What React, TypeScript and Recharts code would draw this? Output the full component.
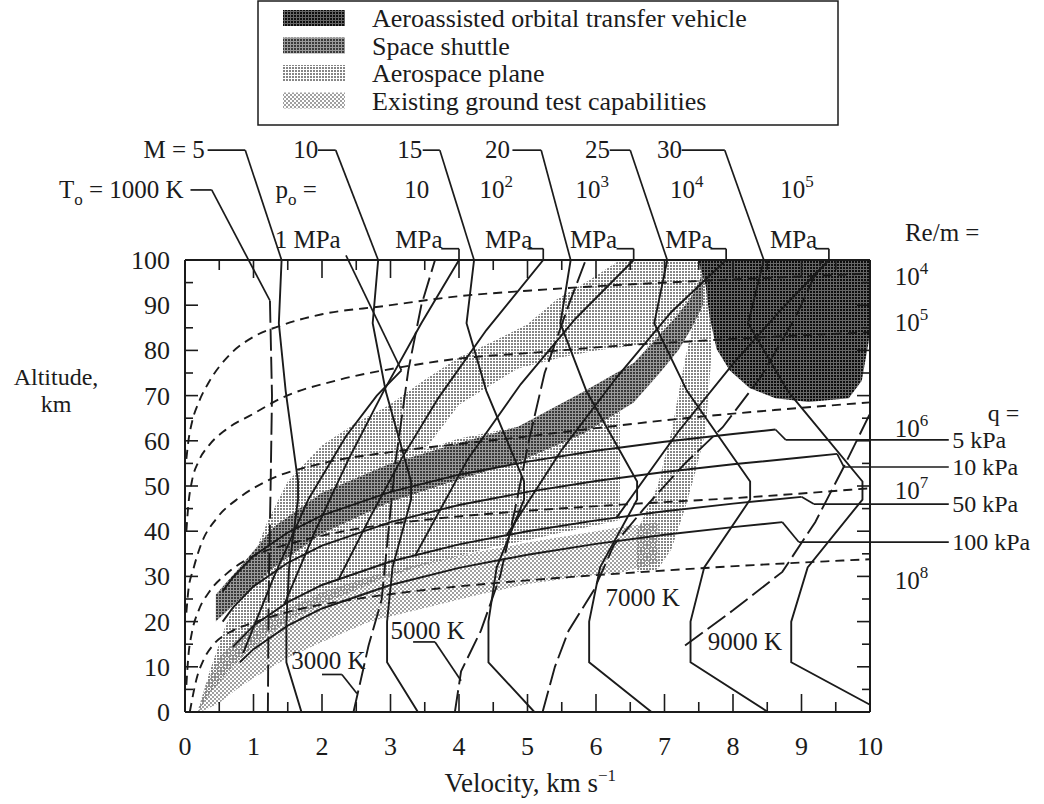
import { ComposedChart, Line, Area, XAxis, YAxis, ReferenceLine } from 'recharts'

const W = 1044
const H = 804
const PLOT = { left: 185, right: 870, top: 260, bottom: 712 }
const INK = '#1b1b1b'
const FONT = '"Liberation Serif", "Times New Roman", serif'

const xTicks = [0, 0.5, 1, 1.5, 2, 2.5, 3, 3.5, 4, 4.5, 5, 5.5, 6, 6.5, 7, 7.5, 8, 8.5, 9, 9.5, 10]
const yTicks = [0, 5, 10, 15, 20, 25, 30, 35, 40, 45, 50, 55, 60, 65, 70, 75, 80, 85, 90, 95, 100]

// Re/m lines (dashed) [velocity km/s, altitude km]
const re4 = [[0.02, 56], [0.05, 60], [0.1, 64], [0.2, 68.5], [0.35, 73], [0.65, 79], [1.0, 83], [1.4, 85.5], [2.0, 88], [2.9, 89.8], [4.0, 92], [5.0, 93.2], [6.0, 94.2], [7.3, 95.2], [8.6, 96.1], [10, 97]]
const re5 = [[0.02, 40], [0.05, 46], [0.1, 51], [0.2, 55.5], [0.35, 59], [0.6, 62.5], [1.0, 66], [1.4, 69.4], [2.2, 73.3], [3.2, 76.4], [4.0, 78.2], [5.0, 79.4], [6.3, 81], [7.6, 82.2], [8.8, 83.2], [10, 84]]
const re6 = [[0.02, 22], [0.05, 27], [0.12, 31.5], [0.24, 37.3], [0.46, 42.8], [0.8, 47.5], [1.18, 51], [2.0, 55], [3.0, 57.5], [4.0, 59.3], [4.9, 60.8], [6.0, 62.8], [7.3, 65], [8.6, 66.8], [10, 68.5]]
const re7 = [[0.02, 6], [0.05, 12.5], [0.1, 17.5], [0.2, 22.5], [0.35, 26.5], [0.6, 30.5], [1.0, 34.5], [1.6, 37.5], [2.5, 40.5], [3.5, 42.5], [4.9, 44.4], [6.5, 46], [8.2, 47.5], [10, 49.5]]
const re8 = [[0.07, 0], [0.17, 7.4], [0.27, 11.5], [0.41, 14.8], [0.7, 18], [1.0, 19.8], [1.6, 22.5], [2.5, 25], [3.5, 27], [4.9, 29], [6.7, 31], [8.3, 32.5], [10, 33.8]]

// dynamic pressure q (solid)
const q5 = [[0.55, 26.7], [0.7, 29.8], [1, 34.5], [1.5, 39.7], [2, 43.5], [3, 48.7], [4, 52.5], [5, 55.4], [6, 57.8], [7, 59.8], [8, 61.5], [8.62, 62.5]]
const q10 = [[0.55, 20], [0.7, 23.1], [1, 27.8], [1.5, 33], [2, 36.8], [3, 42], [4, 45.8], [5, 48.7], [6, 51.1], [7, 53.1], [8, 54.8], [9, 56.3], [9.52, 57.1]]
const q50 = [[0.7, 14.4], [1, 19.1], [1.5, 24.3], [2, 28.1], [3, 33.3], [4, 37.1], [5, 40], [6, 42.4], [7, 44.4], [8, 46.1], [9, 47.6]]
const q100 = [[0.8, 11], [1, 13.9], [1.5, 19.1], [2, 22.9], [3, 28.1], [4, 31.9], [5, 34.8], [6, 37.2], [7, 39.2], [8, 40.9], [8.72, 42]]

// Mach number (solid)
const m5 = [[1.41, 100], [1.37, 86], [1.47, 71], [1.65, 51], [1.65, 47], [1.52, 32], [1.48, 20], [1.48, 11], [1.7, 0]]
const m10 = [[2.82, 100], [2.74, 86], [2.93, 71], [3.3, 51], [3.3, 47], [3.03, 32], [2.95, 20], [2.95, 11], [3.4, 0]]
const m15 = [[4.22, 100], [4.11, 86], [4.4, 71], [4.95, 51], [4.95, 47], [4.55, 32], [4.43, 20], [4.43, 11], [5.1, 0]]
const m20 = [[5.63, 100], [5.48, 86], [5.86, 71], [6.6, 51], [6.6, 47], [6.06, 32], [5.9, 20], [5.9, 11], [6.81, 0]]
const m25 = [[7.04, 100], [6.85, 86], [7.33, 71], [8.25, 51], [8.25, 47], [7.58, 32], [7.38, 20], [7.38, 11], [8.51, 0]]
const m30 = [[8.45, 100], [8.22, 86], [8.8, 71], [9.89, 51], [9.89, 47], [9.09, 32], [8.85, 20], [8.85, 11], [10, 1.6]]

// stagnation temperature T_o (long dash)
const t1000 = [[1.24, 91], [1.27, 70], [1.25, 50], [1.22, 25], [1.21, 0]]
const t3000 = [[2.46, 0], [2.68, 14.7], [2.87, 24.8], [2.97, 40], [3.07, 55], [3.16, 64.7], [3.26, 75.6], [3.45, 90], [3.65, 100]]
const t5000 = [[3.94, 0], [4.03, 9], [4.32, 18], [4.6, 30], [4.82, 45], [5.02, 60], [5.25, 75], [5.6, 90], [5.85, 100]]
const t7000 = [[5.22, 0], [5.4, 10], [5.6, 18], [5.97, 27], [6.26, 36.9], [6.7, 45], [7.3, 55], [7.85, 63], [8.4, 74], [8.9, 87], [9.3, 100]]
const t9000 = [[7.3, 14.7], [8.0, 22.5], [8.72, 31], [9.2, 42], [9.6, 53.7], [10, 66]]

// stagnation pressure p_o (solid)
const p1 = [[0.85, 13.1], [1.3, 30], [1.8, 47], [2.35, 61], [2.8, 70], [3.16, 75.6]]
const p10 = [[1.45, 23.8], [1.9, 40], [2.39, 56], [2.9, 71], [3.45, 86], [4.0, 100]]
const p100 = [[2.25, 29.6], [2.7, 43], [3.16, 56], [3.7, 69.5], [4.4, 84.5], [5.23, 100]]
const p1e3 = [[3.36, 34.6], [4.13, 56], [4.9, 72.5], [5.7, 87], [6.55, 100]]
const p1e4 = [[4.7, 39.2], [5.5, 58], [6.3, 74], [7.1, 88.5], [7.9, 100]]
const p1e5 = [[6.3, 43], [7.2, 62], [8.0, 77], [8.7, 89], [9.4, 100]]

// shaded regions [velocity, low altitude, high altitude]
const groundTest = [[0.19, 0, 0.5], [0.3, 0.5, 6], [0.5, 2, 12], [0.75, 5, 16], [1.0, 7.5, 19], [1.5, 12, 23], [2.0, 15.5, 26.5], [2.7, 20, 30], [3.5, 23, 33], [4.3, 26, 35.5], [5.0, 28.3, 37.5], [5.8, 30, 39.5], [6.4, 31, 41], [6.9, 33, 42]]
const aeroMain = [[0.19, 0, 0], [0.36, 4, 9], [0.58, 8, 18.6], [0.89, 13, 30.3], [1.2, 17, 42], [1.5, 20, 51], [2.0, 24, 59], [2.5, 27, 64], [2.97, 30, 67.8], [3.5, 32.5, 73.5], [3.99, 34.5, 78.4], [4.5, 36.5, 82], [5.0, 38, 85.8], [5.43, 39.5, 91.3], [5.9, 41, 95.5], [6.35, 42.5, 100]]
const aeroTop = [[6.35, 78, 100], [6.8, 80, 100], [7.2, 84, 100], [7.5, 88, 100], [7.62, 95, 100]]
const aeroPullUp = [[6.6, 31, 40], [6.9, 31.5, 50], [7.1, 36, 62], [7.3, 45, 78], [7.45, 53, 88], [7.6, 62, 100], [7.68, 78, 100]]
const lensGap = [[3.5, 58, 58], [4.0, 60.5, 68], [4.86, 63.1, 76], [5.5, 67.5, 78.5], [6.0, 72, 80], [6.5, 77, 81], [6.75, 80.5, 81.5]]
const shuttle = [[0.45, 20, 26], [0.8, 25, 32], [1.3, 32, 41], [2.0, 39.5, 48.5], [3.0, 46.5, 55], [4.0, 51.5, 59.5], [4.86, 55.3, 63.1], [5.82, 61.6, 70.9], [6.55, 68.5, 77.2], [6.93, 75, 83.4], [7.2, 80, 88], [7.4, 85, 92], [7.56, 90, 97]]
const aotv = [[7.49, 100, 100], [7.6, 94.4, 100], [7.66, 87.3, 100], [7.76, 80.3, 100], [7.95, 75.6, 100], [8.24, 71.7, 100], [8.62, 69.4, 100], [9.1, 68.6, 100], [9.69, 69.4, 100], [9.88, 73.3, 100], [9.98, 81.9, 100], [10, 85.6, 100]]

// leader lines (data units)
const leaders = [
  [[0.33, 124.3], [0.88, 124.3], [1.41, 100]],
  [[1.94, 124.3], [2.2, 124.3], [2.82, 100]],
  [[3.47, 124.3], [3.72, 124.3], [4.22, 100]],
  [[4.78, 124.3], [5.2, 124.3], [5.63, 100]],
  [[6.2, 124.3], [6.5, 124.3], [7.04, 100]],
  [[7.25, 124.3], [7.88, 124.3], [8.45, 100]],
  [[0.08, 115.5], [0.39, 115.5], [1.24, 91]],
  [[2.35, 101], [3.16, 75.6]],
  [[3.74, 102.5], [4.0, 102.5], [4.0, 100]],
  [[5.0, 102.5], [5.23, 102.5], [5.23, 100]],
  [[6.3, 102.5], [6.55, 102.5], [6.55, 100]],
  [[7.67, 102.5], [7.9, 102.5], [7.9, 100]],
  [[9.2, 102.5], [9.4, 102.5], [9.4, 100]],
  [[8.62, 62.5], [8.77, 60.2], [11.15, 60.2]],
  [[9.52, 57.1], [9.62, 54.2], [11.15, 54.2]],
  [[9.0, 47.6], [9.18, 46], [11.15, 46]],
  [[8.72, 42], [8.96, 37.6], [11.15, 37.6]],
  [[2.0, 8.3], [2.29, 8.3], [2.51, 4.1]],
  [[3.33, 15.5], [3.65, 15.5], [4.03, 6.9]],
]

const legendItems = [
  { name: 'Aeroassisted orbital transfer vehicle', fill: 'url(#pAotv)' },
  { name: 'Space shuttle', fill: 'url(#pShuttle)' },
  { name: 'Aerospace plane', fill: 'url(#pAero)' },
  { name: 'Existing ground test capabilities', fill: 'url(#pGround)' },
]

const machLabels = [
  { text: 'M = 5', v: 0.29, anchor: 'end' },
  { text: '10', v: 1.58, anchor: 'start' },
  { text: '15', v: 3.1, anchor: 'start' },
  { text: '20', v: 4.38, anchor: 'start' },
  { text: '25', v: 5.84, anchor: 'start' },
  { text: '30', v: 6.89, anchor: 'start' },
]
const poExponents = [{ exp: '', v: 3.2 }, { exp: '2', v: 4.3 }, { exp: '3', v: 5.7 }, { exp: '4', v: 7.08 }, { exp: '5', v: 8.69 }]
const mpaStarts = [3.07, 4.38, 5.62, 7.01, 8.54]
const reLabels = [{ exp: '4', h: 96.5 }, { exp: '5', h: 86.3 }, { exp: '6', h: 62.8 }, { exp: '7', h: 49.1 }, { exp: '8', h: 29.2 }]
const qLabels = [{ text: '5 kPa', h: 60.2 }, { text: '10 kPa', h: 54.2 }, { text: '50 kPa', h: 46 }, { text: '100 kPa', h: 37.6 }]
const tempLabels = [{ text: '3000 K', v: 1.55, h: 11.2 }, { text: '5000 K', v: 3.0, h: 17.9 }, { text: '7000 K', v: 6.14, h: 25.2 }, { text: '9000 K', v: 7.63, h: 15.4 }]

const pts = (a: number[][]) => a.map(([v, h]) => ({ v, h }))
const band = (a: number[][]) => a.map(([v, lo, hi]) => ({ v, r: [lo, hi] }))

const px = (v: number) => PLOT.left + (v / 10) * (PLOT.right - PLOT.left)
const py = (h: number) => PLOT.bottom - (h / 100) * (PLOT.bottom - PLOT.top)

const solid = [q5, q10, q50, q100, m5, m10, m15, m20, m25, m30, p1, p10, p100, p1e3, p1e4, p1e5]
const reLines = [re4, re5, re6, re7, re8]
const tLines = [t1000, t3000, t5000, t7000, t9000]

const textStyle = { fontFamily: FONT, fontSize: 25, fill: INK }

function BottomTick(p: any) {
  const v = p.payload.value
  const major = Number.isInteger(v)
  return (
    <g>
      <line x1={p.x} y1={p.y} x2={p.x} y2={p.y - (major ? 18 : 10)} stroke={INK} strokeWidth={1.6} />
      {major && (
        <text x={p.x} y={p.y + 43} textAnchor="middle" {...textStyle} fontSize={26}>
          {v}
        </text>
      )}
    </g>
  )
}

function TopTick(p: any) {
  const major = Number.isInteger(p.payload.value)
  return <line x1={p.x} y1={p.y} x2={p.x} y2={p.y + (major ? 18 : 10)} stroke={INK} strokeWidth={1.6} />
}

function LeftTick(p: any) {
  const v = p.payload.value
  const major = v % 10 === 0
  return (
    <g>
      <line x1={p.x} y1={p.y} x2={p.x + (major ? 13 : 8)} y2={p.y} stroke={INK} strokeWidth={1.6} />
      {major && (
        <text x={p.x - 15} y={p.y + 9} textAnchor="end" {...textStyle} fontSize={26}>
          {v}
        </text>
      )}
    </g>
  )
}

function RightTick(p: any) {
  const major = p.payload.value % 10 === 0
  return <line x1={p.x} y1={p.y} x2={p.x - (major ? 13 : 8)} y2={p.y} stroke={INK} strokeWidth={1.6} />
}

function Pow({ x, y, exp, anchor = 'start' }: { x: number; y: number; exp: string; anchor?: string }) {
  return (
    <text x={x} y={y} textAnchor={anchor as any} {...textStyle}>
      10
      {exp && (
        <tspan dy={-11} fontSize={17}>
          {exp}
        </tspan>
      )}
    </text>
  )
}

function Overlay() {
  const row1 = py(124.3) + 8
  const row2 = py(115.5) + 8
  const row3 = py(104.4) + 8
  return (
    <svg width={W} height={H} style={{ position: 'absolute', left: 0, top: 0, pointerEvents: 'none' }}>
      <defs>
        <pattern id="pGround" width="4" height="4" patternUnits="userSpaceOnUse">
          <rect x="0" y="0" width="2" height="2" fill="#a0a0a0" />
          <rect x="2" y="2" width="2" height="2" fill="#a0a0a0" />
        </pattern>
        <pattern id="pAero" x="1" y="1" width="3" height="3" patternUnits="userSpaceOnUse">
          <rect x="0" y="0" width="2" height="2" fill="#858585" />
        </pattern>
        <pattern id="pShuttle" width="3" height="3" patternUnits="userSpaceOnUse">
          <rect x="0" y="0" width="3" height="3" fill="#9a9a9a" />
          <rect x="0" y="0" width="2" height="2" fill="#3a3a3a" />
        </pattern>
        <pattern id="pAotv" width="3" height="3" patternUnits="userSpaceOnUse">
          <rect x="0" y="0" width="3" height="3" fill="#666" />
          <rect x="0" y="0" width="2" height="2" fill="#0e0e0e" />
        </pattern>
      </defs>

      <rect x={258} y={1} width={580} height={124} fill="none" stroke={INK} strokeWidth={1.5} />
      {legendItems.map((it, i) => (
        <g key={it.name}>
          <rect x={283} y={10 + i * 27.5} width={62} height={16} fill={it.fill} />
          <text x={372} y={27 + i * 27.5} {...textStyle} fontSize={26}>
            {it.name}
          </text>
        </g>
      ))}

      {machLabels.map((m) => (
        <text key={m.text} x={px(m.v)} y={row1} textAnchor={m.anchor as any} {...textStyle}>
          {m.text}
        </text>
      ))}

      <text x={px(-0.02)} y={row2} textAnchor="end" {...textStyle}>
        T<tspan dy={7} fontSize={17}>o</tspan>
        <tspan dy={-7}> = 1000 K</tspan>
      </text>
      <text x={px(1.32)} y={row2} {...textStyle}>
        p<tspan dy={7} fontSize={17}>o</tspan>
        <tspan dy={-7}> =</tspan>
      </text>
      {poExponents.map((p) => (
        <Pow key={p.v} x={px(p.v)} y={row2} exp={p.exp} />
      ))}
      <text x={px(1.31)} y={row3} {...textStyle}>
        1 MPa
      </text>
      {mpaStarts.map((v) => (
        <text key={v} x={px(v)} y={row3} {...textStyle}>
          MPa
        </text>
      ))}

      <text x={px(10.51)} y={py(106) + 8} {...textStyle}>
        Re/m =
      </text>
      {reLabels.map((r) => (
        <Pow key={r.exp} x={px(10.36)} y={py(r.h) + 9} exp={r.exp} />
      ))}
      <text x={px(11.72)} y={py(66.2) + 8} {...textStyle} fontSize={24}>
        q =
      </text>
      {qLabels.map((q) => (
        <text key={q.text} x={px(11.2)} y={py(q.h) + 8} {...textStyle} fontSize={24}>
          {q.text}
        </text>
      ))}

      {tempLabels.map((t) => (
        <text key={t.text} x={px(t.v)} y={py(t.h) + 8} {...textStyle}>
          {t.text}
        </text>
      ))}

      <text x={56} y={385} textAnchor="middle" {...textStyle} fontSize={24}>
        Altitude,
      </text>
      <text x={56} y={412} textAnchor="middle" {...textStyle} fontSize={24}>
        km
      </text>
      <text x={px(5.04)} y={792} textAnchor="middle" {...textStyle} fontSize={27}>
        Velocity, km s<tspan dy={-11} fontSize={17}>−1</tspan>
      </text>
    </svg>
  )
}

export default function App() {
  const axisLine = { stroke: INK, strokeWidth: 2 }
  return (
    <div style={{ position: 'absolute', left: 0, top: 0, width: W, height: H, background: '#fff' }}>
      <ComposedChart width={W} height={H} margin={{ top: 0, right: 0, bottom: 0, left: 0 }}>
        <XAxis xAxisId="b" type="number" dataKey="v" domain={[0, 10]} ticks={xTicks} interval={0} allowDataOverflow
          height={H - PLOT.bottom} tickSize={0} tickMargin={0} tickLine={false} axisLine={axisLine} tick={(p: any) => <BottomTick {...p} />} />
        <XAxis xAxisId="t" orientation="top" type="number" dataKey="v" domain={[0, 10]} ticks={xTicks} interval={0} allowDataOverflow
          height={PLOT.top} tickSize={0} tickMargin={0} tickLine={false} axisLine={axisLine} tick={(p: any) => <TopTick {...p} />} />
        <YAxis yAxisId="l" type="number" domain={[0, 100]} ticks={yTicks} interval={0} allowDataOverflow
          width={PLOT.left} tickSize={0} tickMargin={0} tickLine={false} axisLine={axisLine} tick={(p: any) => <LeftTick {...p} />} />
        <YAxis yAxisId="r" orientation="right" type="number" domain={[0, 100]} ticks={yTicks} interval={0} allowDataOverflow
          width={W - PLOT.right} tickSize={0} tickMargin={0} tickLine={false} axisLine={axisLine} tick={(p: any) => <RightTick {...p} />} />

        <Area data={band(groundTest)} dataKey="r" xAxisId="b" yAxisId="l" type="linear" stroke="none" fill="url(#pGround)" fillOpacity={1} isAnimationActive={false} />
        <Area data={band(aeroMain)} dataKey="r" xAxisId="b" yAxisId="l" type="linear" stroke="none" fill="url(#pAero)" fillOpacity={1} isAnimationActive={false} />
        <Area data={band(aeroTop)} dataKey="r" xAxisId="b" yAxisId="l" type="linear" stroke="none" fill="url(#pAero)" fillOpacity={1} isAnimationActive={false} />
        <Area data={band(aeroPullUp)} dataKey="r" xAxisId="b" yAxisId="l" type="linear" stroke="none" fill="url(#pAero)" fillOpacity={1} isAnimationActive={false} />
        <Area data={band(lensGap)} dataKey="r" xAxisId="b" yAxisId="l" type="linear" stroke="none" fill="#fff" fillOpacity={1} isAnimationActive={false} />
        <Area data={band(shuttle)} dataKey="r" xAxisId="b" yAxisId="l" type="linear" stroke="none" fill="url(#pShuttle)" fillOpacity={1} isAnimationActive={false} />
        <Area data={band(aotv)} dataKey="r" xAxisId="b" yAxisId="l" type="linear" stroke="none" fill="url(#pAotv)" fillOpacity={1} isAnimationActive={false} />

        {reLines.map((d, i) => (
          <Line key={'re' + i} data={pts(d)} dataKey="h" xAxisId="b" yAxisId="l" type="monotone" stroke={INK} strokeWidth={1.9}
            strokeDasharray="9 6" dot={false} activeDot={false} isAnimationActive={false} />
        ))}
        {tLines.map((d, i) => (
          <Line key={'t' + i} data={pts(d)} dataKey="h" xAxisId="b" yAxisId="l" type="linear" stroke={INK} strokeWidth={1.9}
            strokeDasharray="22 6" dot={false} activeDot={false} isAnimationActive={false} />
        ))}
        {solid.map((d, i) => (
          <Line key={'s' + i} data={pts(d)} dataKey="h" xAxisId="b" yAxisId="l" type="linear" stroke={INK} strokeWidth={1.9}
            dot={false} activeDot={false} isAnimationActive={false} />
        ))}

        {leaders.flatMap((pl, i) =>
          pl.slice(1).map((p, j) => (
            <ReferenceLine key={`ld${i}-${j}`} xAxisId="b" yAxisId="l" ifOverflow="visible" stroke={INK} strokeWidth={1.7}
              segment={[{ x: pl[j][0], y: pl[j][1] }, { x: p[0], y: p[1] }]} />
          )),
        )}
      </ComposedChart>
      <Overlay />
    </div>
  )
}
